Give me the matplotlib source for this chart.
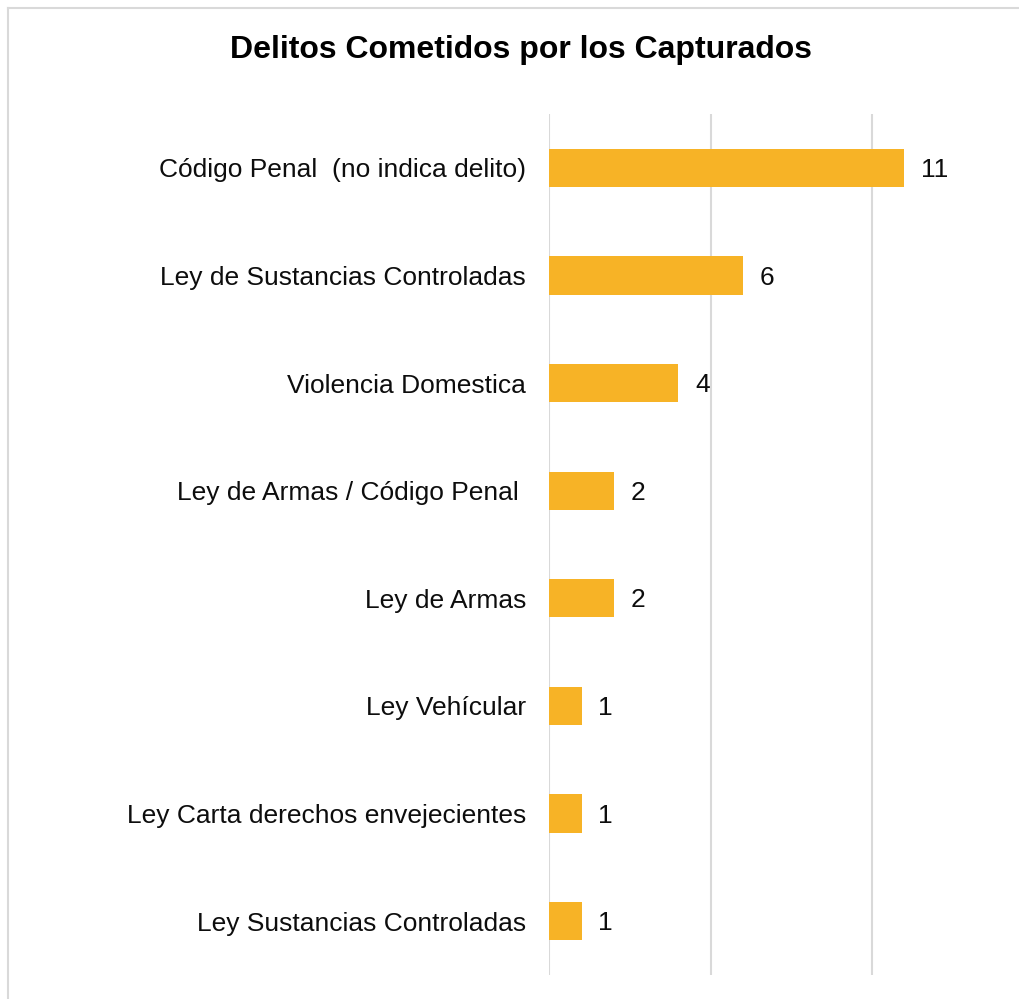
import matplotlib.pyplot as plt
from matplotlib.lines import Line2D

plt.rcParams['font.family'] = ['Liberation Sans', 'DejaVu Sans']

categories = ['Código Penal  (no indica delito)', 'Ley de Sustancias Controladas',
              'Violencia Domestica', 'Ley de Armas / Código Penal ', 'Ley de Armas',
              'Ley Vehícular', 'Ley Carta derechos envejecientes', 'Ley Sustancias Controladas']
values = [11, 6, 4, 2, 2, 1, 1, 1]
ticks = [0, 5, 10]

W, H = 1020, 999
fig = plt.figure(figsize=(W / 100, H / 100), dpi=100)
ax = fig.add_axes([549.5 / W, 1 - 975 / H, 451 / W, (975 - 114) / H])

ypos = list(range(len(categories)))
ax.barh(ypos, values, height=0.355, color='#F7B326', zorder=3)
for y, v in zip(ypos, values):
    ax.text(v + 0.52, y + 0.02, str(v), va='center', ha='left', fontsize=19, color='#0d0d0d')

ax.set_xlim(0, 14)
ax.set_ylim(len(categories) - 0.5, -0.5)
ax.set_yticks(ypos)
ax.set_yticklabels(categories, fontsize=19, color='#0d0d0d')
ax.set_xticks(ticks)
ax.tick_params(axis='y', length=0, pad=17)
ax.tick_params(axis='x', length=0, labelbottom=False)
ax.grid(axis='x', color='#D9D9D9', linewidth=1.5, zorder=0)
for s in ax.spines.values():
    s.set_visible(False)

fig.text(521 / W, 1 - 50 / H, 'Delitos Cometidos por los Capturados', ha='center', va='center',
         fontsize=23, fontweight='bold')

# chart border (left and top edges only are within the image)
fig.add_artist(Line2D([8.5 / W, 8.5 / W], [0, 1 - 7.5 / H], transform=fig.transFigure,
                      color='#D9D9D9', linewidth=1.5))
fig.add_artist(Line2D([8.5 / W, 1], [1 - 7.5 / H, 1 - 7.5 / H], transform=fig.transFigure,
                      color='#D9D9D9', linewidth=1.5))

fig.savefig('out.png', dpi=100)
